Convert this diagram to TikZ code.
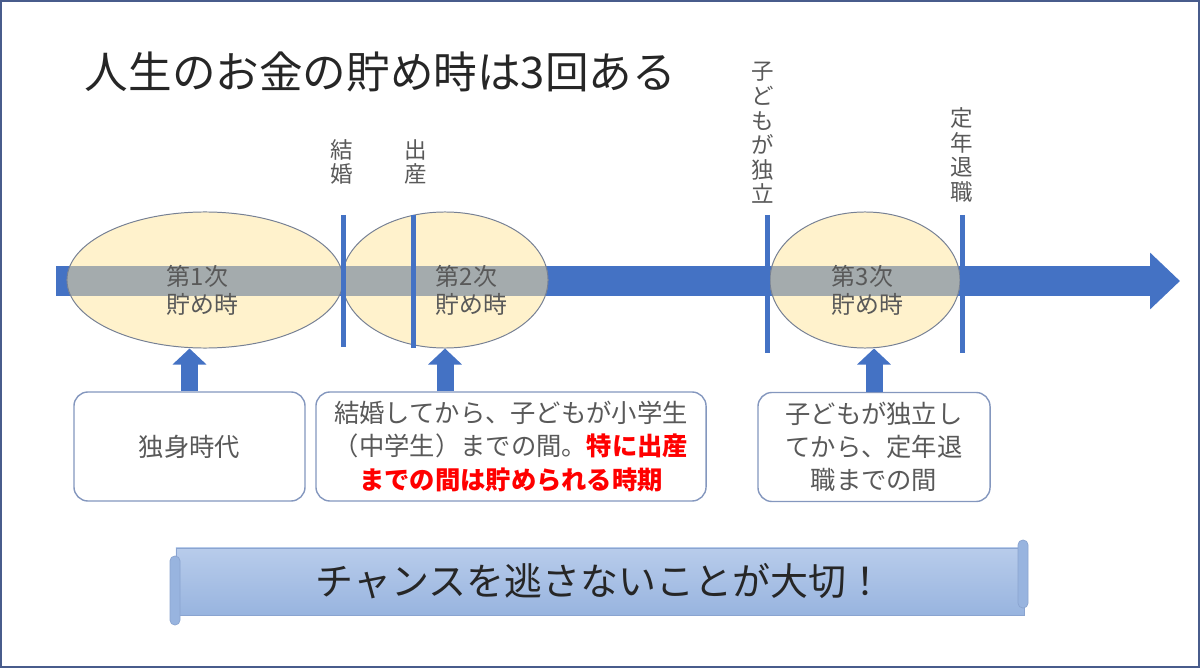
\documentclass[tikz,border=0pt]{standalone}
\usepackage{fontspec}
\setmainfont{Noto Sans CJK JP}
\usetikzlibrary{arrows.meta, positioning, shapes.geometric}
\definecolor{lifeblue}{RGB}{68,114,196}
\definecolor{bandgray}{RGB}{164,171,173}
\definecolor{stagefill}{RGB}{255,242,204}
\definecolor{stageborder}{RGB}{118,128,148}
\definecolor{noteborder}{RGB}{132,151,190}
\definecolor{textgray}{RGB}{89,89,89}
\definecolor{titlecol}{RGB}{38,38,38}
\definecolor{scrolltop}{RGB}{184,204,235}
\definecolor{scrollbottom}{RGB}{152,180,223}
\definecolor{scrollborder}{RGB}{138,164,208}
\definecolor{framecol}{RGB}{72,92,140}
\tikzset{
  stage/.style={ellipse, draw=stageborder, line width=0.7pt,
    fill=stagefill, minimum height=3.4cm, inner sep=0pt,
    path picture={\fill[bandgray] (bandtop) rectangle (bandbot);}},
  stagetext/.style={anchor=west, align=left,
    font=\fontsize{17}{20}\selectfont, text=textgray},
  note/.style={rectangle, rounded corners=10pt, draw=noteborder,
    line width=1pt, fill=white, minimum height=2.725cm,
    align=center, font=\fontsize{18}{23.5}\selectfont, text=textgray},
  mslabel/.style={align=center, font=\fontsize{16}{17.5}\selectfont,
    text=textgray},
  msline/.style={lifeblue, line width=0.125cm},
  lifearr/.style={-{Triangle[width=1.375cm, length=0.75cm]},
    lifeblue, line width=0.75cm},
  uparr/.style={-{Triangle[width=0.825cm, length=0.4cm]},
    lifeblue, line width=0.425cm},
  scroll/.style={rectangle, top color=scrolltop, bottom color=scrollbottom,
    draw=scrollborder, line width=0.5pt, minimum width=21.2cm,
    minimum height=1.675cm, font=\fontsize{27}{30}\selectfont,
    text=titlecol},
  scrollroll/.style={fill=scrollbottom, draw=scrollborder,
    line width=0.5pt, rounded corners=0.12cm},
}
\begin{document}
\begin{tikzpicture}[x=0.025cm, y=-0.025cm]
  \useasboundingbox (0,0) rectangle (1200,668);

  \node[anchor=west, font=\fontsize{31}{34}\selectfont, text=titlecol]
    (title) at (80,72) {人生のお金の貯め時は3回ある};

  % life line
  \coordinate (lifestart) at (56,281);
  \coordinate (lifeend) at (1180,281);
  \coordinate (bandtop) at (0,266);
  \coordinate (bandbot) at (1200,296);
  \draw[lifearr] (lifestart) -- (lifeend);

  % saving periods
  \node[stage, minimum width=6.9cm] (e1) at (205,280) {};
  \node[stage, minimum width=5.15cm] (e2) at (445,280) {};
  \node[stage, minimum width=4.75cm] (e3) at (865,280) {};

  % milestones
  \coordinate (m1top) at (343,215); \coordinate (m1bot) at (343,347);
  \coordinate (m2top) at (413,215); \coordinate (m2bot) at (413,348);
  \coordinate (m3top) at (767,215); \coordinate (m3bot) at (767,353);
  \coordinate (m4top) at (962,215); \coordinate (m4bot) at (962,353);
  \draw[msline] (m1top) -- (m1bot);
  \draw[msline] (m2top) -- (m2bot);
  \draw[msline] (m3top) -- (m3bot);
  \draw[msline] (m4top) -- (m4bot);

  \node[mslabel] (kekkon) at (342,162) {結\\婚};
  \node[mslabel] (shussan) at (416,162) {出\\産};
  \node[mslabel] (dokuritsu) at (763,133) {子\\ど\\も\\が\\独\\立};
  \node[mslabel] (taishoku) at (962,155) {定\\年\\退\\職};

  \node[stagetext] (t1) at (162,290) {第1次\\貯め時};
  \node[stagetext] (t2) at (431,290) {第2次\\貯め時};
  \node[stagetext] (t3) at (827,290) {第3次\\貯め時};

  % notes
  \node[note, minimum width=5.775cm] (b1) at (189.5,446.5) {独身時代};
  \node[note, minimum width=9.75cm] (b2) at (511,446.5)
    {結婚してから、子どもが小学生\\
     （中学生）までの間。\textbf{\color{red}特に出産}\\
     \textbf{\color{red}までの間は貯められる時期}};
  \node[note, minimum width=5.8cm] (b3) at (874,447)
    {子どもが独立し\\てから、定年退\\職までの間};

  \draw[uparr] (b1.north) -- (b1.north |- e1.south);
  \draw[uparr] (e2.south |- b2.north) -- (e2.south);
  \draw[uparr] (b3.north) -- (b3.north |- e3.south);

  % message scroll
  \node[scroll] (msg) at (600,581.5) {チャンスを逃さないことが大切！};
  \draw[scrollroll] (1018,540) rectangle (1028,608);
  \draw[scrollroll] (170,556) rectangle (180,625);

  \draw[framecol, line width=0.05cm] (1,1) rectangle (1199,667);
\end{tikzpicture}
\end{document}
